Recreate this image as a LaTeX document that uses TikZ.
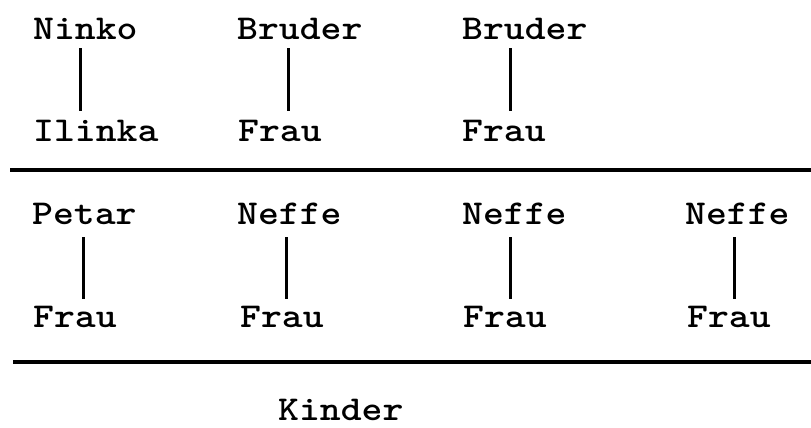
\documentclass[tikz,border=0pt]{standalone}
\usepackage{fontspec}
\newcommand\wideTT[1]{\scalebox{1.14}[1]{#1}}
\begin{document}
\begin{tikzpicture}[x=1bp,y=-1bp,
  lbl/.style={anchor=base west, inner sep=0pt, font=\fontsize{35}{40}\selectfont\ttfamily\bfseries\addfontfeatures{FakeBold=0.6}},
  vl/.style={line width=3bp},
  vla/.style={vl, shorten <=9bp, shorten >=9bp},
  vlb/.style={vl, shorten <=13bp, shorten >=7bp},
  hl/.style={line width=3.2bp}]
\useasboundingbox (0,0) rectangle (811,427);
% row 1
\node[lbl] (ninko)   at (33,39)  {\wideTT{Ninko}};
\node[lbl] (bruderA) at (237,39) {\wideTT{Bruder}};
\node[lbl] (bruderB) at (462,39) {\wideTT{Bruder}};
% row 2
\node[lbl] (ilinka) at (33,141)  {\wideTT{Ilinka}};
\node[lbl] (frauA)  at (238,141) {\wideTT{Frau}};
\node[lbl] (frauB)  at (462,141) {\wideTT{Frau}};
% row 3
\node[lbl] (petar)  at (32,224)  {\wideTT{Petar}};
\node[lbl] (neffeA) at (237,224) {\wideTT{Neffe}};
\node[lbl] (neffeB) at (462,224) {\wideTT{Neffe}};
\node[lbl] (neffeC) at (685,224) {\wideTT{Neffe}};
% row 4
\node[lbl] (frauC) at (33,327)  {\wideTT{Frau}};
\node[lbl] (frauD) at (240,327) {\wideTT{Frau}};
\node[lbl] (frauE) at (463,327) {\wideTT{Frau}};
\node[lbl] (frauF) at (687,327) {\wideTT{Frau}};
% bottom
\node[lbl] (kinder) at (278,420) {\wideTT{Kinder}};
% column x positions of the vertical connectors
\coordinate (x1) at (80,0);
\coordinate (x2) at (288,0);
\coordinate (x3) at (510,0);
\coordinate (x4) at (83,0);
\coordinate (x5) at (286,0);
\coordinate (x6) at (510,0);
\coordinate (x7) at (734,0);
\draw[vla] (ninko.south -| x1)   -- (ilinka.north -| x1);
\draw[vla] (bruderA.south -| x2) -- (frauA.north -| x2);
\draw[vla] (bruderB.south -| x3) -- (frauB.north -| x3);
\draw[vlb] (petar.south -| x4)   -- (frauC.north -| x4);
\draw[vlb] (neffeA.south -| x5)  -- (frauD.north -| x5);
\draw[vlb] (neffeB.south -| x6)  -- (frauE.north -| x6);
\draw[vlb] (neffeC.south -| x7)  -- (frauF.north -| x7);
% separators
\draw[hl] (10,170) -- (811,170);
\draw[hl] (13,362) -- (811,362);
\end{tikzpicture}
\end{document}
